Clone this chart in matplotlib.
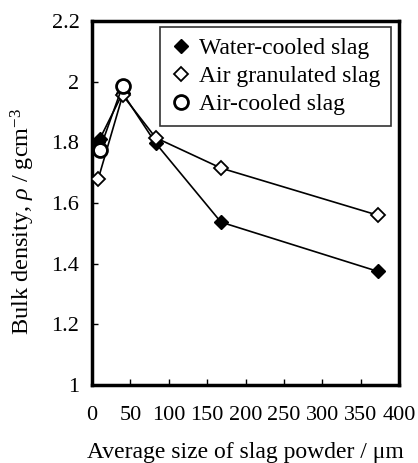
import matplotlib
matplotlib.use("Agg")
import matplotlib.pyplot as plt

plt.rcParams['font.family'] = ['Liberation Serif', 'DejaVu Serif']
plt.rcParams['mathtext.fontset'] = 'custom'
plt.rcParams['mathtext.rm'] = 'Liberation Serif'
plt.rcParams['mathtext.it'] = 'Liberation Serif:italic'

water_x = [8, 10, 40, 83, 168, 372]
water_y = [1.80, 1.81, 1.962, 1.797, 1.537, 1.375]
gran_x = [8, 40, 83, 168, 372]
gran_y = [1.678, 1.955, 1.815, 1.715, 1.56]
aircool_x = [10, 40]
aircool_y = [1.775, 1.987]
xticks = [0, 50, 100, 150, 200, 250, 300, 350, 400]
yticks = [1, 1.2, 1.4, 1.6, 1.8, 2, 2.2]
ytick_labels = ['1', '1.2', '1.4', '1.6', '1.8', '2', '2.2']

fig = plt.figure(figsize=(4.18, 4.63), dpi=100)
ax = fig.add_axes([0.220, 0.168, 0.735, 0.787])

ax.plot(water_x, water_y, color='black', lw=1.2, marker='D', ms=7,
        mfc='black', mec='black', label='Water-cooled slag', zorder=3)
ax.plot(gran_x, gran_y, color='black', lw=1.2, marker='D', ms=7,
        mfc='white', mec='black', mew=1.3, label='Air granulated slag', zorder=3)
ax.plot(aircool_x, aircool_y, color='black', lw=1.2, marker='o', ms=10,
        mfc='white', mec='black', mew=2, label='Air-cooled slag', zorder=4)

ax.set_xlim(0, 400)
ax.set_ylim(1, 2.2)
ax.set_xticks(xticks)
ax.set_xticklabels([str(t) for t in xticks])
ax.set_yticks(yticks)
ax.set_yticklabels(ytick_labels)
ax.tick_params(direction='in', length=4, width=1, labelsize=16)
ax.tick_params(axis='y', pad=9)
ax.tick_params(axis='x', pad=15)

for s in ax.spines.values():
    s.set_linewidth(2.5)

ax.set_xlabel('Average size of slag powder / μm', fontsize=17, labelpad=12)
ax.set_ylabel('Bulk density, $\\rho$ / gcm$^{-3}$', fontsize=17.5)
ax.yaxis.set_label_coords(-0.18, 0.45)

leg = ax.legend(loc='upper right', fontsize=17, frameon=True, fancybox=False,
                edgecolor='black', borderpad=0.45, handlelength=0.9,
                handletextpad=0.3, labelspacing=0.28, borderaxespad=0.0,
                bbox_to_anchor=(0.974, 0.9835))
leg.get_frame().set_linewidth(1.2)
for h in leg.legend_handles:
    h.set_linestyle('none')

fig.savefig('out.png', dpi=100)
